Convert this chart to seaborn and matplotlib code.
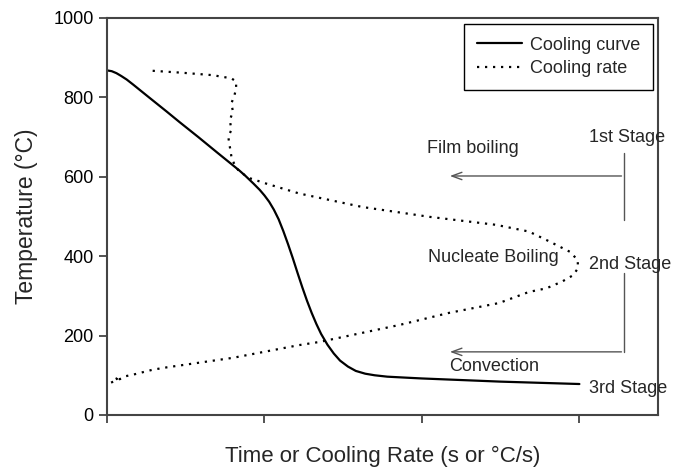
import matplotlib
matplotlib.use("Agg")
import matplotlib.pyplot as plt
import seaborn as sns
import pandas as pd

# ---- data ----
curve_x = [0.0, 0.03, 0.06, 0.09, 0.125, 0.167, 0.22, 0.27, 0.38, 0.46, 0.58, 0.70, 0.84,
           0.88, 0.93, 0.97, 1.00, 1.03, 1.06, 1.09, 1.12, 1.15, 1.18, 1.21, 1.24, 1.27,
           1.30, 1.33, 1.36, 1.40, 1.44, 1.48, 1.53, 1.58, 1.64, 1.70, 1.78, 1.90, 2.0,
           2.25, 2.5, 2.75, 3.0]
curve_t = [868, 866, 861, 854, 845, 832, 815, 799, 764, 738, 700, 661, 616,
           602, 583, 567, 553, 537, 517, 493, 463, 430, 395, 358, 322, 288,
           257, 229, 204, 177, 155, 137, 122, 111, 104, 100, 96.5, 94, 92,
           88, 84, 81, 78]

rate_x = [0.29, 0.48, 0.67, 0.79, 0.82, 0.82, 0.81, 0.79, 0.80, 0.78, 0.79, 0.77, 0.78,
          0.79, 0.81, 0.84, 0.91, 1.01, 1.22, 1.62, 2.05, 2.47, 2.68, 2.81, 2.94, 2.99,
          2.99, 2.96, 2.89, 2.79, 2.68, 2.49, 2.17, 1.86, 1.35, 1.22, 0.80, 0.38, 0.29,
          0.17, 0.11, 0.08, 0.09, 0.06, 0.07, 0.04, 0.0]
rate_t = [867, 862, 856, 848, 840, 823, 806, 785, 764, 743, 718, 701, 676,
          651, 630, 613, 596, 583, 558, 524, 499, 479, 462, 437, 411, 390,
          369, 352, 336, 319, 310, 282, 257, 227, 184, 176, 144, 120, 114,
          102, 97, 90, 94, 92, 88, 84, 77]

x_ticks = [0, 1, 2, 3]
y_ticks = [0, 200, 400, 600, 800, 1000]

series_names = ["Cooling curve", "Cooling rate"]
stage_labels = ["1st Stage", "2nd Stage", "3rd Stage"]
regime_labels = ["Film boiling", "Nucleate Boiling", "Convection"]

sns.set_theme(style="ticks")
plt.rcParams["font.family"] = ["Liberation Sans", "DejaVu Sans"]

fig = plt.figure(figsize=(6.75, 4.72), dpi=100)
ax = fig.add_axes([0.1585, 0.1208, 0.8165, 0.8411])

df_curve = pd.DataFrame({"x": curve_x, "T": curve_t})
df_rate = pd.DataFrame({"x": rate_x, "T": rate_t})

sns.lineplot(data=df_curve, x="x", y="T", ax=ax, color="black", lw=1.6,
             sort=False, estimator=None, label=series_names[0])
sns.lineplot(data=df_rate, x="x", y="T", ax=ax, color="black", lw=1.6,
             sort=False, estimator=None, label=series_names[1],
             linestyle=(0, (1, 2.6)))

ax.set_xlim(0, 3.5)
ax.set_ylim(0, 1000)
ax.set_xticks(x_ticks)
ax.set_xticklabels([])
ax.set_yticks(y_ticks)
ax.tick_params(axis="both", direction="out", length=6, width=1.3, color="#444444",
               labelsize=13, labelcolor="black")
for s in ax.spines.values():
    s.set_color("#444444")
    s.set_linewidth(1.5)
    s.set_visible(True)

ax.set_xlabel("Time or Cooling Rate (s or °C/s)", fontsize=16, labelpad=13)
ax.set_ylabel("Temperature (°C)", fontsize=16.5, labelpad=11)

leg = ax.legend(loc="upper right", bbox_to_anchor=(0.991, 0.985), fontsize=13,
                frameon=True, fancybox=False, edgecolor="black", framealpha=1,
                handlelength=2.5, borderpad=0.7, labelspacing=0.36, handletextpad=0.45,
                borderaxespad=0)
leg.get_frame().set_linewidth(1.0)

# annotations
gray = "#555555"
ax.plot([3.285, 3.285], [660, 491], color=gray, lw=1)
ax.annotate("", xy=(2.16, 602), xytext=(3.285, 602),
            arrowprops=dict(arrowstyle="->,head_length=0.6,head_width=0.22", color=gray, lw=1))
ax.plot([3.285, 3.285], [358, 159], color=gray, lw=1)
ax.annotate("", xy=(2.16, 159), xytext=(3.285, 159),
            arrowprops=dict(arrowstyle="->,head_length=0.6,head_width=0.22", color=gray, lw=1))

ax.text(3.06, 698, stage_labels[0], fontsize=13, va="center", ha="left", clip_on=False)
ax.text(3.06, 380, stage_labels[1], fontsize=13, va="center", ha="left", clip_on=False)
ax.text(3.06, 66, stage_labels[2], fontsize=13, va="center", ha="left", clip_on=False)
ax.text(2.03, 672, regime_labels[0], fontsize=13, va="center", ha="left")
ax.text(2.04, 396, regime_labels[1], fontsize=13, va="center", ha="left")
ax.text(2.17, 121, regime_labels[2], fontsize=13, va="center", ha="left")

fig.savefig("out.png", dpi=100)
